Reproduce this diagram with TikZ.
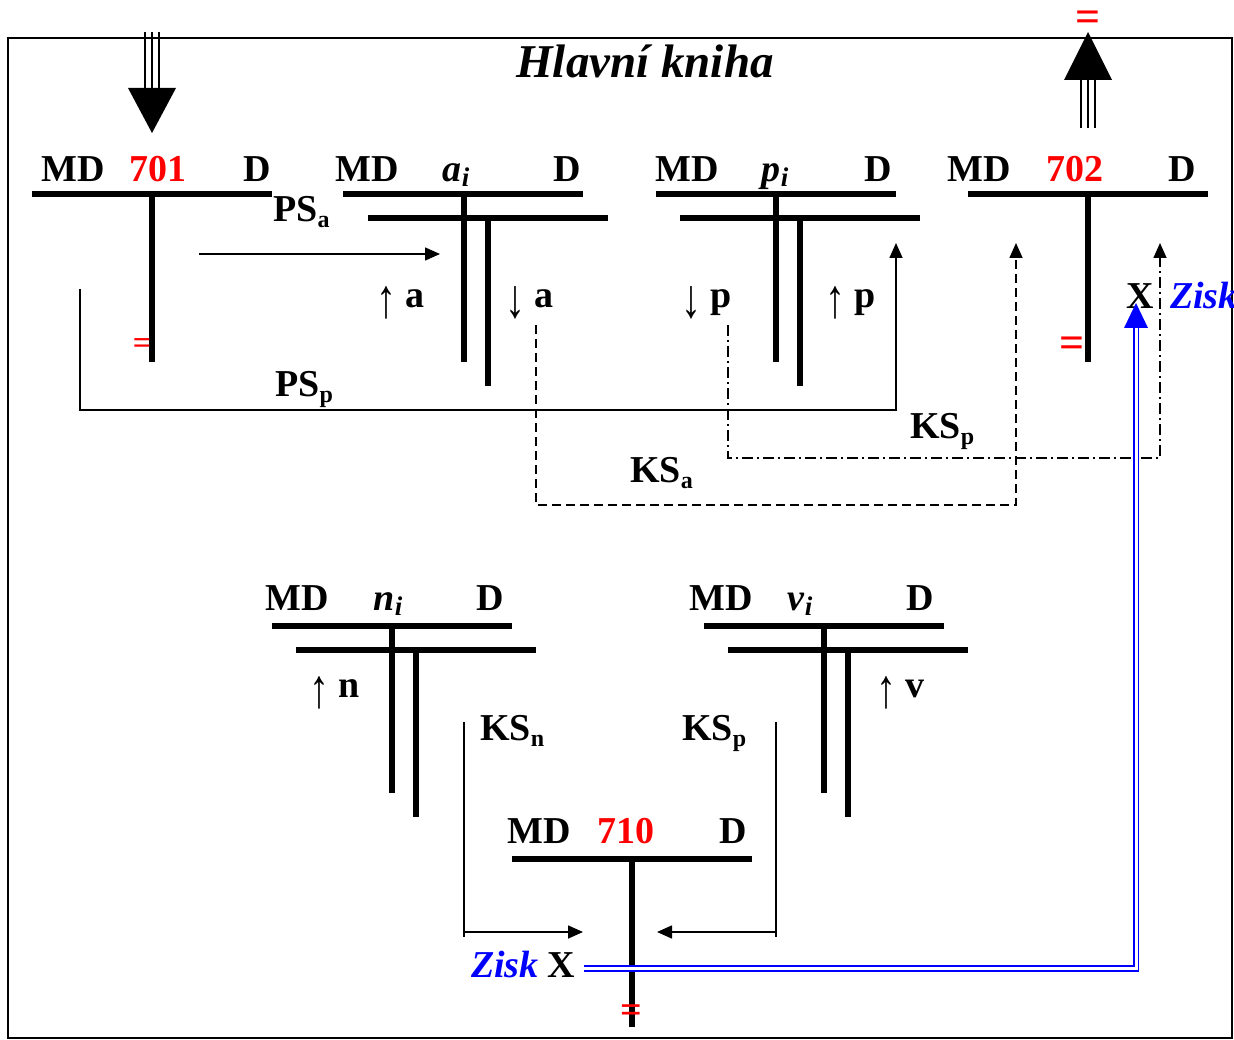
\documentclass[tikz,border=0pt]{standalone}
\usepackage{fontspec}
\setmainfont{Liberation Serif}
\usetikzlibrary{arrows.meta}
\newcommand\fsM{\fontsize{38}{40}\selectfont\bfseries}
\newcommand\sbs[1]{\raisebox{-6pt}{\fontsize{24}{24}\selectfont\bfseries #1}}
\newcommand\sbi[1]{\raisebox{-5pt}{\fontsize{27}{27}\selectfont\bfseries\itshape #1}}
\newcommand\arU{\raisebox{-10pt}{\scalebox{1.05}[1.45]{\mdseries\char"2191}}}
\newcommand\arD{\raisebox{-10pt}{\scalebox{1.05}[1.45]{\mdseries\char"2193}}}
\begin{document}
\begin{tikzpicture}[x=1pt,y=-1pt,
  tacc/.style={line width=5.5pt},
  conn/.style={line width=1.6pt},
  arr/.style={conn,-{Triangle[length=15pt,width=13pt]}},
  triple/.style={line width=2.2pt},
  lbl/.style={inner sep=0pt,anchor=base,font=\fsM},
  lblw/.style={inner sep=0pt,anchor=base west,font=\fsM},
  eq/.style={inner sep=0pt,text=red,font=\fontsize{44}{44}\selectfont\bfseries}]
\useasboundingbox (0,0) rectangle (1234,1040);
\draw[line width=1.6pt] (8,38) rectangle (1232,1038);
\node[inner sep=0pt,anchor=base,font=\fontsize{47}{50}\selectfont\bfseries\itshape] (title) at (645,78) {Hlavní kniha};

% ---------- account 701 ----------
\draw[tacc] (32,194) -- (272,194);
\draw[tacc] (152,194) -- (152,362);
\node[lbl] (md701) at (73,182) {MD};
\node[lbl,text=red] (n701) at (158,182) {701};
\node[lbl] (d701) at (257,182) {D};
\node[eq,font=\fontsize{32}{32}\selectfont\bfseries] (eq701) at (142,346) {=};
\foreach \dx in {-7,0,7} \draw[triple] (152+\dx,32) -- (152+\dx,89);
\fill (128,88) -- (176,88) -- (152,133) -- cycle;

% ---------- account a_i ----------
\draw[tacc] (343,194) -- (583,194);
\draw[tacc] (368,218) -- (608,218);
\draw[tacc] (464,194) -- (464,362);
\draw[tacc] (488,218) -- (488,386);
\node[lbl] (mda) at (367,182) {MD};
\node[lbl] (na) at (456,182) {\textit{a}\sbi{i}};
\node[lbl] (da) at (567,182) {D};

% ---------- account p_i ----------
\draw[tacc] (656,194) -- (896,194);
\draw[tacc] (680,218) -- (920,218);
\draw[tacc] (776,194) -- (776,362);
\draw[tacc] (800,218) -- (800,386);
\node[lbl] (mdp) at (687,182) {MD};
\node[lbl] (np) at (775,182) {\textit{p}\sbi{i}};
\node[lbl] (dp) at (878,182) {D};

% ---------- account 702 ----------
\draw[tacc] (968,194) -- (1208,194);
\draw[tacc] (1088,194) -- (1088,362);
\node[lbl] (md702) at (979,182) {MD};
\node[lbl,text=red] (n702) at (1075,182) {702};
\node[lbl] (d702) at (1182,182) {D};
\node[eq] (eq702) at (1072,347) {=};
\foreach \dx in {-7,0,7} \draw[triple] (1088+\dx,79) -- (1088+\dx,128);
\fill (1064,80) -- (1112,80) -- (1088,32) -- cycle;
\node[eq] (eqtop) at (1088,21) {=};

% ---------- account n_i ----------
\draw[tacc] (272,626) -- (512,626);
\draw[tacc] (296,650) -- (536,650);
\draw[tacc] (392,626) -- (392,793);
\draw[tacc] (416,650) -- (416,817);
\node[lbl] (mdn) at (297,610) {MD};
\node[lbl] (nn) at (388,610) {\textit{n}\sbi{i}};
\node[lbl] (dn) at (490,610) {D};

% ---------- account v_i ----------
\draw[tacc] (704,626) -- (944,626);
\draw[tacc] (728,650) -- (968,650);
\draw[tacc] (824,626) -- (824,793);
\draw[tacc] (848,650) -- (848,817);
\node[lbl] (mdv) at (721,610) {MD};
\node[lbl] (nv) at (800,610) {\textit{v}\sbi{i}};
\node[lbl] (dv) at (920,610) {D};

% ---------- account 710 ----------
\draw[tacc] (512,859) -- (752,859);
\draw[tacc] (632,859) -- (632,1027);
\node[lbl] (md710) at (539,843) {MD};
\node[lbl,text=red] (n710) at (626,843) {710};
\node[lbl] (d710) at (733,843) {D};
\node[eq,font=\fontsize{38}{38}\selectfont\bfseries] (eq710) at (631,1014) {=};

% ---------- side labels ----------
\node[lblw] (ua) at (376,308) {\arU\ a};
\node[lblw] (da2) at (505,308) {\arD\ a};
\node[lblw] (dp2) at (681,308) {\arD\ p};
\node[lblw] (up2) at (825,308) {\arU\ p};
\node[lblw] (un) at (309,697) {\arU\ n};
\node[lblw] (uv) at (876,697) {\arU\ v};

% ---------- PS_a ----------
\coordinate (psa1) at (199,254);
\coordinate (psa2) at (440,254);
\draw[arr] (psa1) -- (psa2);
\node[lblw] (lpsa) at (273,222) {PS\sbs{a}};

% ---------- PS_p ----------
\coordinate (psp1) at (80,289);
\coordinate (psp2) at (896,243);
\draw[arr] (psp1) |- (488,410) -| (psp2);
\node[lblw] (lpsp) at (275,396) {PS\sbs{p}};

% ---------- KS_a ----------
\coordinate (ksa1) at (536,325);
\coordinate (ksa2) at (1016,243);
\draw[arr,dash pattern=on 9pt off 5pt] (ksa1) |- (776,505) -| (ksa2);
\node[lblw] (lksa) at (630,482) {KS\sbs{a}};

% ---------- KS_p (top) ----------
\coordinate (ksp1) at (728,325);
\coordinate (ksp2) at (1160,243);
\draw[arr,dash pattern=on 11pt off 4pt on 2pt off 4pt] (ksp1) |- (944,458) -| (ksp2);
\node[lblw] (lksp) at (910,438) {KS\sbs{p}};

% ---------- X Zisk (top right) ----------
\node[lblw] (xtop) at (1126,309) {X};
\node[lblw,text=blue] (zisktop) at (1170,309) {\textit{Zisk}};

% ---------- KS_n, KS_p (bottom) ----------
\coordinate (ksn1) at (464,722);
\coordinate (ksn2) at (583,932);
\draw[conn] (ksn1) -- (464,937);
\draw[arr] (464,932) -- (ksn2);
\node[lblw] (lksn) at (480,740) {KS\sbs{n}};
\coordinate (kspb1) at (776,722);
\coordinate (kspb2) at (657,932);
\draw[conn] (kspb1) -- (776,937);
\draw[arr] (776,932) -- (kspb2);
\node[lblw] (lkspb) at (682,740) {KS\sbs{p}};

% ---------- Zisk X (bottom) ----------
\node[lblw,text=blue] (ziskbot) at (471,977) {\textit{Zisk}};
\node[lblw] (xbot) at (547,977) {X};

% ---------- blue double transfer ----------
\coordinate (zb1) at (584,968.5);
\coordinate (zb2) at (1136,326);
\draw[blue,line width=1.8pt,double=white,double distance=3pt] (zb1) -- (1136,968.5) -- (zb2);
\fill[blue] (1124,328) -- (1148,328) -- (1136,303) -- cycle;
\end{tikzpicture}
\end{document}
